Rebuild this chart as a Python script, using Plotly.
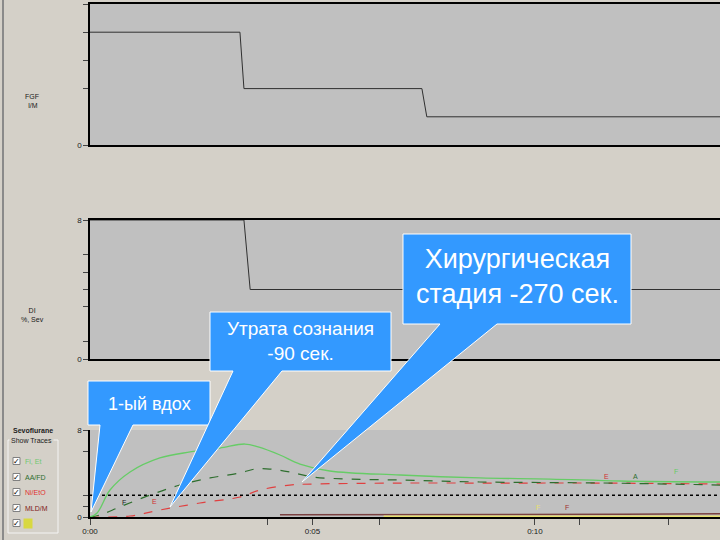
import plotly.graph_objects as go

W, H = 720, 540


def px(x):
    return x / W


def py(y):
    return 1 - y / H


# ---------------- data (time in minutes) ----------------
fgf_t = [0, 3.37, 3.46, 7.46, 7.57, 14.16]
fgf_v = [8, 8, 4, 4, 2, 2]

dial_t = [0, 3.46, 3.60, 14.16]
dial_v = [8, 8, 4, 4]

fi_t = [0, 0.16, 0.45, 0.90, 1.57, 2.25, 2.92, 3.48, 3.78, 4.27, 4.72, 5.39, 6.97, 8.76, 10.34, 11.91, 14.16]
fi_v = [0, 0.37, 2.48, 4.14, 5.43, 5.98, 6.34, 6.71, 6.44, 5.70, 4.87, 4.23, 3.86, 3.59, 3.49, 3.31, 3.22]

et_t = [0, 0.22, 0.67, 1.35, 2.02, 2.70, 3.37, 3.71, 4.04, 4.49, 5.01, 5.84, 6.97, 8.76, 11.46, 14.16]
et_v = [0, 0.18, 0.92, 2.02, 2.94, 3.59, 4.05, 4.41, 4.41, 4.14, 3.68, 3.49, 3.40, 3.22, 3.13, 2.94]

red_t = [0, 0.90, 1.57, 2.47, 3.37, 3.82, 4.49, 5.01, 6.97, 9.21, 11.46, 14.16]
red_v = [0, 0.09, 0.64, 1.29, 1.84, 2.48, 2.94, 3.03, 3.12, 3.12, 3.12, 3.03]

mac_t = [0, 14.16]
mac_v = [2.0, 2.0]

brown_t = [4.27, 6.6, 12.0, 14.16]
brown_v = [0.2, 0.2, 0.25, 0.3]

yellow_t = [6.6, 14.16]
yellow_v = [0.08, 0.08]

x_ticks = [0, 4, 5, 6.5, 10, 11, 13]
x_ticktext = ["0:00", "", "0:05", "", "0:10", "", ""]

legend_labels = ["Fi, Et", "AA/FD", "Ni/EtO", "MLD/M", "   "]
legend_colors = ["#70c870", "#2e6e2e", "#e03030", "#802020", "#d8d840"]

fig = go.Figure()

fig.add_trace(go.Scatter(x=fgf_t, y=fgf_v, mode="lines", line=dict(color="#303030", width=1), xaxis="x", yaxis="y"))
fig.add_trace(go.Scatter(x=dial_t, y=dial_v, mode="lines", line=dict(color="#303030", width=1), xaxis="x2", yaxis="y2"))

fig.add_trace(go.Scatter(x=mac_t, y=mac_v, mode="lines", line=dict(color="black", width=1.5, dash="dot"), xaxis="x3", yaxis="y3"))
fig.add_trace(go.Scatter(x=brown_t, y=brown_v, mode="lines", line=dict(color="#7a4040", width=1.5), xaxis="x3", yaxis="y3"))
fig.add_trace(go.Scatter(x=yellow_t, y=yellow_v, mode="lines", line=dict(color="#e8e070", width=1.5), xaxis="x3", yaxis="y3"))
fig.add_trace(go.Scatter(x=red_t, y=red_v, mode="lines", line=dict(color="#e04040", width=1.2, dash="dash", shape="spline"), xaxis="x3", yaxis="y3"))
fig.add_trace(go.Scatter(x=et_t, y=et_v, mode="lines", line=dict(color="#2e6e2e", width=1.2, dash="dash", shape="spline"), xaxis="x3", yaxis="y3"))
fig.add_trace(go.Scatter(x=fi_t, y=fi_v, mode="lines", line=dict(color="#66cc66", width=1.3, shape="spline"), xaxis="x3", yaxis="y3"))

axis_common = dict(showgrid=False, zeroline=False, showline=True, linecolor="black", linewidth=1.5, automargin=False)
tickfont = dict(family="Liberation Sans", size=8, color="#202020")

fig.update_layout(
    width=W, height=H,
    margin=dict(l=0, r=0, t=0, b=0, pad=0),
    paper_bgcolor="#d4d0c8",
    plot_bgcolor="#c0c0c0",
    showlegend=False,
    xaxis=dict(domain=[px(90), 1], range=[0, 14.16], anchor="y", mirror=True, showticklabels=False, ticks="", **axis_common),
    yaxis=dict(domain=[py(145), py(4)], range=[0, 10], anchor="x", tickvals=[0, 4, 6, 8, 10],
               ticktext=["0", "", "", "", "10"], ticks="outside", ticklen=5, tickfont=tickfont, **axis_common),
    xaxis2=dict(domain=[px(90), 1], range=[0, 14.16], anchor="y2", mirror=True, showticklabels=False, ticks="", **axis_common),
    yaxis2=dict(domain=[py(359), py(220)], range=[0, 8], anchor="x2", tickvals=[0, 1, 3, 4, 5, 6, 8],
                ticktext=["0", "", "", "", "", "", "8"], ticks="outside", ticklen=5, tickfont=tickfont, **axis_common),
    xaxis3=dict(domain=[px(90), 1], range=[0, 14.16], anchor="y3", tickvals=x_ticks, ticktext=x_ticktext,
                ticks="outside", ticklen=6, tickfont=tickfont, **axis_common),
    yaxis3=dict(domain=[py(517), py(430)], range=[0, 8], anchor="x3", tickvals=[0, 1, 2, 6, 8],
                ticktext=["0", "", "", "", "8"], ticks="outside", ticklen=5, tickfont=tickfont, **axis_common),
)

shapes = []
# window border
shapes.append(dict(type="line", xref="paper", yref="paper", x0=px(3), x1=px(3), y0=0, y1=1,
                   line=dict(color="#8a8a8a", width=2)))


# callouts
def callout(box, base, tip):
    x0, y0, x1, y1 = box
    b0, b1 = base
    tx, ty = tip
    pts = [(x0, y0), (x1, y0), (x1, y1), (b1, y1), (tx, ty), (b0, y1), (x0, y1)]
    path = "M " + " L ".join(f"{px(a):.5f},{py(b):.5f}" for a, b in pts) + " Z"
    return dict(type="path", xref="paper", yref="paper", path=path, fillcolor="#3399ff",
                line=dict(color="white", width=1), layer="above")


shapes.append(callout((88, 381, 210, 425), (100, 133), (91, 512)))
shapes.append(callout((210, 312, 391, 371), (233, 282), (170, 507)))
shapes.append(callout((403, 234, 631, 324), (440, 497), (302, 482)))

# legend group box
shapes.append(dict(type="rect", xref="paper", yref="paper", x0=px(8), x1=px(58), y0=py(533), y1=py(440),
                   line=dict(color="#f4f4f4", width=1), fillcolor="rgba(0,0,0,0)"))
check_y = [461, 477, 492, 508, 523]
for cy in check_y:
    shapes.append(dict(type="rect", xref="paper", yref="paper", x0=px(13), x1=px(20), y0=py(cy + 3.5), y1=py(cy - 3.5),
                       line=dict(color="#808080", width=1), fillcolor="white"))

fig.update_layout(shapes=shapes)

ann = []


def note(x, y, text, font, xanchor="center", **kw):
    ann.append(dict(x=px(x), y=py(y), xref="paper", yref="paper", text=text, showarrow=False,
                    xanchor=xanchor, yanchor="middle", font=font, **kw))


cf = dict(family="Liberation Sans", color="white")
note(149, 404, "1-ый вдох", dict(size=18, **cf))
note(300, 341, "Утрата сознания<br>-90 сек.", dict(size=19, **cf))
note(517, 276, "Хирургическая<br>стадия -270 сек.", dict(size=27, **cf))

sf = dict(family="Liberation Sans", size=7, color="#202020")
note(32, 101, "FGF<br> l/M", sf)
note(32, 315, "DI<br>%, Sev", sf)
note(33, 430, "<b>Sevoflurane</b>", sf)
note(31, 440, "Show Traces", sf, bgcolor="#d4d0c8")
for cy, lab, col in zip(check_y, legend_labels, legend_colors):
    note(16.5, cy, "✓", dict(family="DejaVu Sans", size=8, color="black"))
    note(23, cy, lab, dict(family="Liberation Sans", size=7, color=col), xanchor="left",
         bgcolor=col if lab.strip() == "" else None)

# small trace letters on bottom panel
marks = [(0.76, 1.29, "F", "#202020"), (1.46, 1.4, "E", "#d03030"), (11.62, 3.77, "E", "#d03030"),
         (12.27, 3.68, "A", "#2e6e2e"), (13.17, 4.14, "F", "#66cc66"), (10.07, 0.83, "F", "#e8e070"),
         (10.72, 0.9, "F", "#a03030")]
for mx, my, mt, mc in marks:
    ann.append(dict(x=mx, y=my, xref="x3", yref="y3", text=mt, showarrow=False,
                    font=dict(family="Liberation Sans", size=7, color=mc)))

fig.update_layout(annotations=ann)

fig.write_html("out.html", config={"displayModeBar": False},
               post_script="document.body.style.margin='0px';document.body.style.background='#d4d0c8';")
